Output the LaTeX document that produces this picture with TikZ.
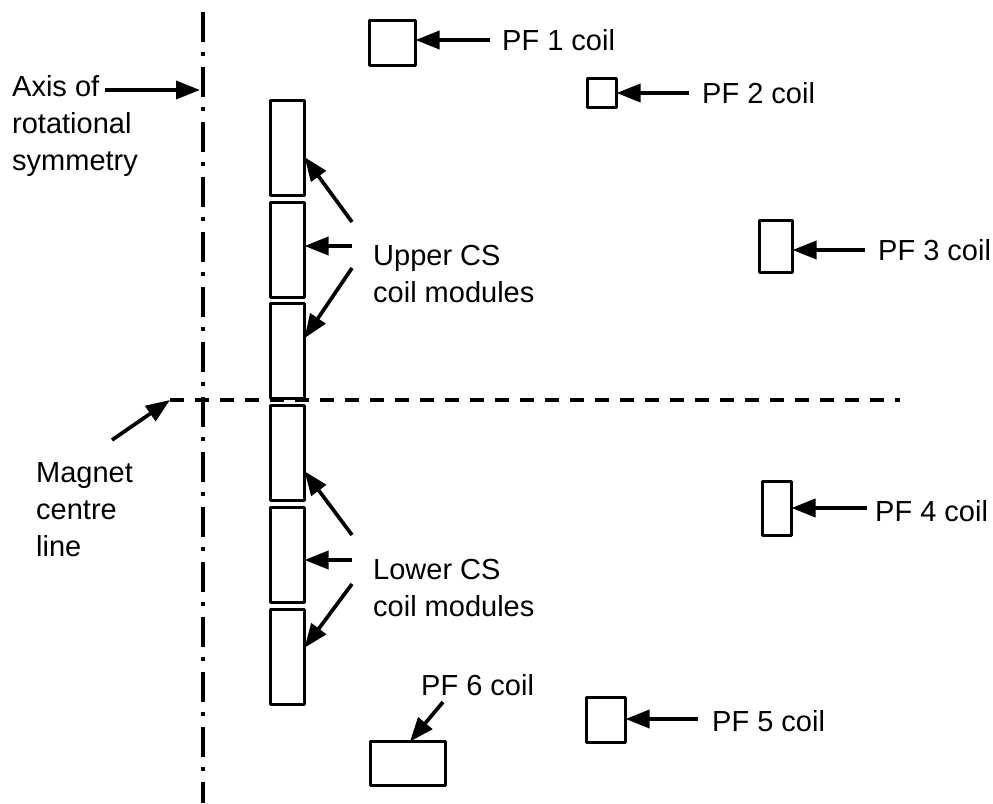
\documentclass[tikz,border=0pt]{standalone}
\usepackage{fontspec}
\setmainfont{Liberation Sans}
\usetikzlibrary{arrows.meta,calc}
\begin{document}
\begin{tikzpicture}[x=1pt,y=-1pt,
  coil/.style={draw,line width=3pt,line join=round,inner sep=0pt,outer sep=0pt},
  arr/.style={line width=3.7pt,-{Triangle[length=24pt,width=18pt]}},
  lbl/.style={font=\fontsize{29}{37}\selectfont,inner sep=0pt,align=left},
  axisline/.style={line width=4pt,dash pattern=on 30pt off 10pt on 4pt off 11pt},
  centreline/.style={line width=4pt,dash pattern=on 14pt off 11pt}]
\useasboundingbox (0,0) rectangle (993,803);
% axis and centre line
\coordinate (axtop) at (203,12);
\coordinate (axbot) at (203,803);
\draw[axisline] (axtop) -- (axbot);
\coordinate (cl1) at (170,400);
\coordinate (cl2) at (900,400);
\draw[centreline] (cl1) -- (cl2);
% CS modules
\foreach \n/\y in {1/148,2/249.5,3/351,4/453,5/555,6/656.5}
  \node[coil,minimum width=34pt,minimum height=95pt] (cs\n) at (287.5,\y) {};
% PF coils
\node[coil,minimum width=46pt,minimum height=45pt] (pf1) at (392.5,43) {};
\node[coil,minimum width=29pt,minimum height=29pt] (pf2) at (602,93) {};
\node[coil,minimum width=33pt,minimum height=52pt] (pf3) at (776,246.5) {};
\node[coil,minimum width=29pt,minimum height=54pt] (pf4) at (777,508.5) {};
\node[coil,minimum width=39pt,minimum height=45pt] (pf5) at (606,720) {};
\node[coil,minimum width=75pt,minimum height=44pt] (pf6) at (408,763.5) {};
% labels (multi-line nodes: base = baseline of last line)
\node[lbl,anchor=base west] (l1) at (502,50) {PF 1 coil};
\node[lbl,anchor=base west] (l2) at (702,103) {PF 2 coil};
\node[lbl,anchor=base west] (l3) at (878,260) {PF 3 coil};
\node[lbl,anchor=base west] (l4) at (875,521) {PF 4 coil};
\node[lbl,anchor=base west] (l5) at (712,731) {PF 5 coil};
\node[lbl,anchor=base west] (l6) at (421,695) {PF 6 coil};
\node[lbl,anchor=base west] (ax) at (12,170) {Axis of\\rotational\\symmetry};
\node[lbl,anchor=base west] (mg) at (36,556) {Magnet\\centre\\line};
\node[lbl,anchor=base west] (up) at (373,302) {Upper CS\\coil modules};
\node[lbl,anchor=base west] (lo) at (373,616) {Lower CS\\coil modules};
% arrow tails
\coordinate (t1) at (490,40);
\coordinate (t2) at (689,93);
\coordinate (t3) at (865,250);
\coordinate (t4) at (867,508);
\coordinate (t5) at (698,719);
\coordinate (t6) at (443,702);
\coordinate (tax) at (105,90);
\coordinate (tax2) at (200,90);
\coordinate (tmg) at (112,440);
\coordinate (u1) at (352,222);
\coordinate (u2) at (352,246);
\coordinate (u3) at (352,268);
\coordinate (w1) at (352,535);
\coordinate (w2) at (352,560);
\coordinate (w3) at (352,584);
% arrows
\draw[arr] (t1) -- (t1 -| pf1.east);
\draw[arr] (t2) -- (t2 -| pf2.east);
\draw[arr] (t3) -- (t3 -| pf3.east);
\draw[arr] (t4) -- (t4 -| pf4.east);
\draw[arr] (t5) -- (t5 -| pf5.east);
\draw[arr] (t6) -- ($(pf6.north)+(2,0)$);
\draw[arr] (tax) -- (tax2);
\draw[arr] (tmg) -- (cl1);
\draw[arr] (u1) -- (cs1.-28);
\draw[arr] (u2) -- (u2 -| cs2.east);
\draw[arr] (u3) -- (cs3.37);
\draw[arr] (w1) -- (cs4.-47);
\draw[arr] (w2) -- (w2 -| cs5.east);
\draw[arr] (w3) -- (cs6.27);
\end{tikzpicture}
\end{document}
